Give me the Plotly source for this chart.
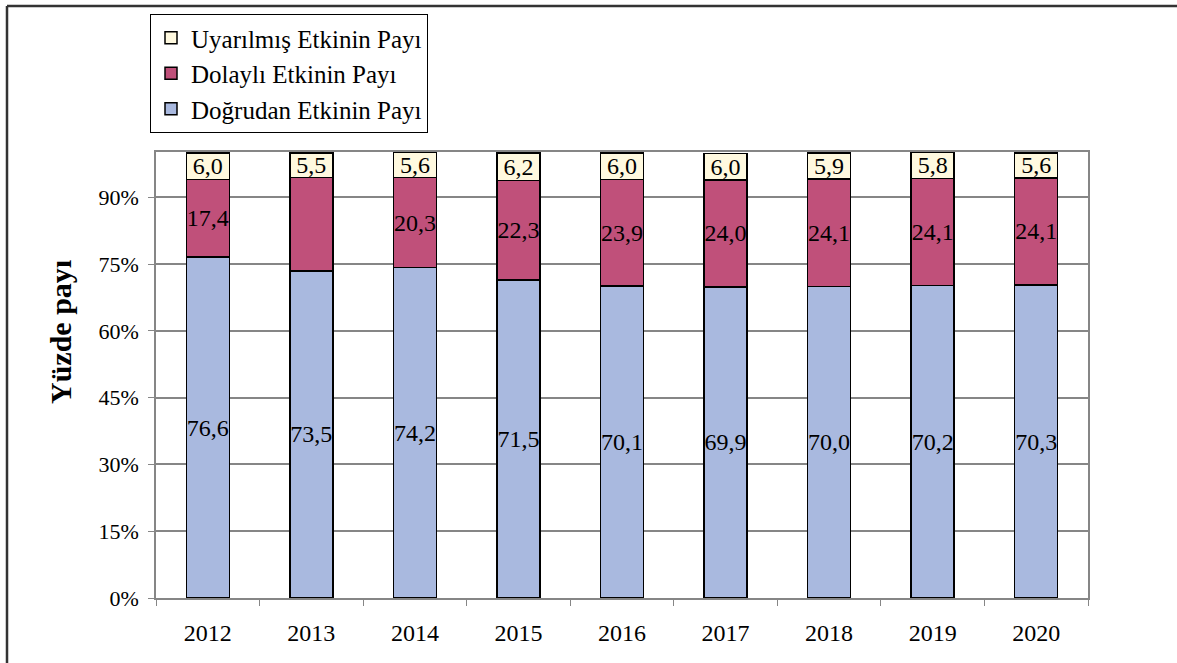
import plotly.graph_objects as go

years = ["2012", "2013", "2014", "2015", "2016", "2017", "2018", "2019", "2020"]
direct = [76.6, 73.5, 74.2, 71.5, 70.1, 69.9, 70.0, 70.2, 70.3]
indirect = [17.4, 21.0, 20.3, 22.3, 23.9, 24.0, 24.1, 24.1, 24.1]
induced = [6.0, 5.5, 5.6, 6.2, 6.0, 6.0, 5.9, 5.8, 5.6]
indirect_labels_shown = [True, False, True, True, True, True, True, True, True]

names = ["Doğrudan Etkinin Payı", "Dolaylı Etkinin Payı", "Uyarılmış Etkinin Payı"]
colors = ["#A9B9DF", "#C0507A", "#FFF9DF"]
yticks = [0, 15, 30, 45, 60, 75, 90]


def fmt(v):
    return f"{v:.1f}".replace(".", ",")


FONT = "Liberation Serif, Times New Roman, serif"

fig = go.Figure()
series = [direct, indirect, induced]
for i, (vals, name, col) in enumerate(zip(series, names, colors)):
    if i == 1:
        txt = [fmt(v) if s else "" for v, s in zip(vals, indirect_labels_shown)]
    else:
        txt = [fmt(v) for v in vals]
    fig.add_trace(go.Bar(
        x=years, y=vals, name=name, text=txt,
        textposition="inside", insidetextanchor="middle", textangle=0,
        constraintext="none",
        textfont=dict(family=FONT, size=24, color="black"),
        insidetextfont=dict(family=FONT, size=24, color="black"),
        marker=dict(color=col, line=dict(color="black", width=1.5)),
        legendgroup=name, legendrank=3 - i,
        cliponaxis=False,
    ))

L, R, T, B = 156, 1088, 152, 598
W, H = 1177, 663
pw, ph = R - L, B - T


def px(x):
    return (x - L) / pw


def py(y):
    return (B - y) / ph


fig.update_layout(
    width=W, height=H,
    margin=dict(l=L, r=W - R, t=T, b=H - B, autoexpand=False),
    barmode="stack", bargap=0.585,
    plot_bgcolor="white", paper_bgcolor="white",
    uniformtext=dict(mode="show", minsize=24),
    showlegend=True,
    legend=dict(
        x=px(150), y=py(14), xanchor="left", yanchor="top",
        traceorder="grouped", tracegroupgap=0,
        bordercolor="black", borderwidth=1, bgcolor="white",
        font=dict(family=FONT, size=25, color="black"),
        itemwidth=30,
    ),
    font=dict(family=FONT, color="black"),
    xaxis=dict(
        showline=True, linecolor="#868686", linewidth=1.5, mirror=True,
        ticks="outside", tickson="boundaries", ticklen=6, tickcolor="#868686",
        tickfont=dict(family=FONT, size=24, color="black"),
        ticklabelstandoff=12,
        showgrid=False,
    ),
    yaxis=dict(
        range=[0, 100.2], tickvals=yticks, ticktext=[f"{t}%" for t in yticks],
        showline=True, linecolor="#868686", linewidth=1.5, mirror=True,
        ticks="outside", ticklen=6, tickcolor="#868686",
        showgrid=True, gridcolor="#868686", gridwidth=1.5,
        tickfont=dict(family=FONT, size=22, color="black"),
        ticklabelstandoff=5,
        zeroline=False,
    ),
    annotations=[dict(
        text="<b>Yüzde payı</b>", textangle=-90,
        x=px(60), y=py(332), xref="paper", yref="paper",
        xanchor="center", yanchor="middle",
        showarrow=False, font=dict(family=FONT, size=30, color="black"),
    )],
    shapes=[
        dict(type="line", xref="paper", yref="paper",
             x0=px(7), x1=px(1177), y0=py(6), y1=py(6),
             line=dict(color="#333333", width=2.5)),
        dict(type="line", xref="paper", yref="paper",
             x0=px(7), x1=px(7), y0=py(6), y1=py(663),
             line=dict(color="#333333", width=2.5)),
    ],
)

fig.write_html(
    "out.html",
    config={"displayModeBar": False},
    post_script="document.body.style.margin='0';document.body.style.overflow='hidden';",
)
